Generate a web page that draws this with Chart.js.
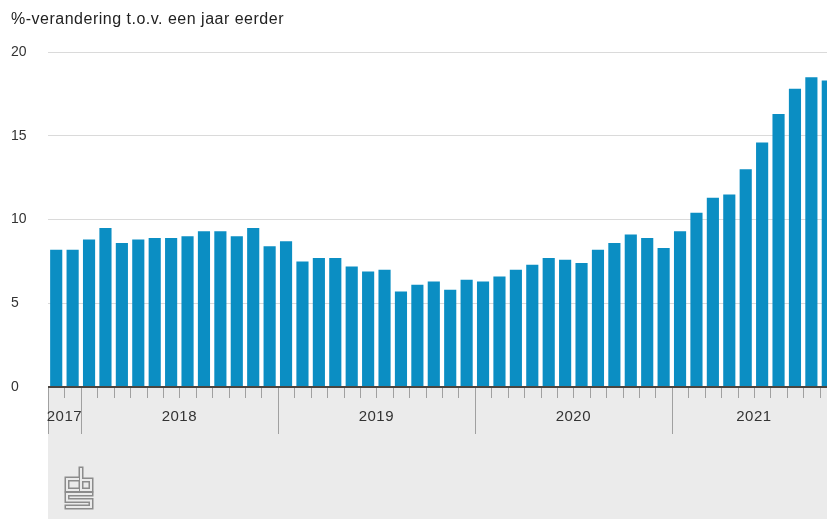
<!DOCTYPE html>
<html>
<head>
<meta charset="utf-8">
<script src="https://cdn.jsdelivr.net/npm/chart.js@4.4.0/dist/chart.umd.min.js"></script>
<style>
  html, body { margin: 0; padding: 0; background: #fff; overflow: hidden; }
  #wrap { position: relative; width: 836px; height: 519px; }
</style>
</head>
<body>
<div id="wrap"><canvas id="myChart"></canvas></div>
<script>
// maanden nov 2017 t/m okt 2021
var months = [
  '2017-11','2017-12',
  '2018-01','2018-02','2018-03','2018-04','2018-05','2018-06','2018-07','2018-08','2018-09','2018-10','2018-11','2018-12',
  '2019-01','2019-02','2019-03','2019-04','2019-05','2019-06','2019-07','2019-08','2019-09','2019-10','2019-11','2019-12',
  '2020-01','2020-02','2020-03','2020-04','2020-05','2020-06','2020-07','2020-08','2020-09','2020-10','2020-11','2020-12',
  '2021-01','2021-02','2021-03','2021-04','2021-05','2021-06','2021-07','2021-08','2021-09','2021-10'
];
var change = [
  8.2, 8.2,
  8.8, 9.5, 8.6, 8.8, 8.9, 8.9, 9.0, 9.3, 9.3, 9.0, 9.5, 8.4,
  8.7, 7.5, 7.7, 7.7, 7.2, 6.9, 7.0, 5.7, 6.1, 6.3, 5.8, 6.4,
  6.3, 6.6, 7.0, 7.3, 7.7, 7.6, 7.4, 8.2, 8.6, 9.1, 8.9, 8.3,
  9.3, 10.4, 11.3, 11.5, 13.0, 14.6, 16.3, 17.8, 18.5, 18.3
];
var years = ['2017', '2018', '2019', '2020', '2021'];
var yTicks = [0, 5, 10, 15, 20];
var title = '%-verandering t.o.v. een jaar eerder';

var font = "'Liberation Sans', Arial, sans-serif";

var decor = {
  id: 'decor',
  beforeDraw: function (chart) {
    var c = chart.ctx, a = chart.chartArea;
    c.save();
    c.fillStyle = '#ebebeb';
    c.fillRect(a.left, a.bottom, chart.width - a.left, chart.height - a.bottom);
    c.fillStyle = '#222';
    c.font = '16px ' + font;
    c.letterSpacing = '0.5px';
    c.textBaseline = 'middle';
    c.fillText(title, 11, 20);
    c.restore();
  },
  afterDatasetsDraw: function (chart) {
    var c = chart.ctx, x = chart.scales.x, a = chart.chartArea;
    var slot = x.width / months.length;
    c.save();
    // maand- en jaarstreepjes
    c.strokeStyle = '#a0a0a0';
    c.lineWidth = 1;
    for (var i = 0; i <= months.length; i++) {
      var px = Math.round(a.left + i * slot) + 0.5;
      var yearStart = i === 0 || (i < months.length && months[i].slice(5) === '01');
      c.beginPath();
      c.moveTo(px, a.bottom);
      c.lineTo(px, a.bottom + (yearStart ? 47 : 11));
      c.stroke();
    }
    // nullijn
    c.strokeStyle = '#4a4540';
    c.lineWidth = 2;
    c.beginPath();
    c.moveTo(a.left, a.bottom);
    c.lineTo(chart.width, a.bottom);
    c.stroke();
    // jaarlabels
    c.fillStyle = '#333';
    c.font = '15px ' + font;
    c.letterSpacing = '0.5px';
    c.textAlign = 'center';
    c.textBaseline = 'middle';
    years.forEach(function (yr) {
      var idx = months.map(function (m, k) { return m.slice(0, 4) === yr ? k : -1; }).filter(function (k) { return k >= 0; });
      var x0 = x.getPixelForValue(idx[0]) - slot / 2;
      var x1 = x.getPixelForValue(idx[idx.length - 1]) + slot / 2;
      var cx = yr === '2021' ? x0 + 5 * slot : (x0 + x1) / 2;
      c.fillText(yr, cx, a.bottom + 30);
    });
    // cbs logo
    var lx = 65, ly = 468;
    var paths = [
      [[13, 11], [2, 11], [2, 22], [13, 22]],
      [[16, 1], [16, 22], [26, 22], [26, 12], [16, 12]],
      [[26, 26], [2, 26], [2, 32.5], [26, 32.5], [26, 39], [2, 39]]
    ];
    [[5, '#8c8c8c'], [2, '#ebebeb']].forEach(function (st) {
      c.lineWidth = st[0];
      c.strokeStyle = st[1];
      c.lineJoin = 'miter';
      c.lineCap = 'square';
      paths.forEach(function (p) {
        c.beginPath();
        p.forEach(function (pt, k) {
          if (k === 0) c.moveTo(lx + pt[0], ly + pt[1]);
          else c.lineTo(lx + pt[0], ly + pt[1]);
        });
        c.stroke();
      });
    });
    c.restore();
  }
};

var ctx = document.getElementById('myChart').getContext('2d');
var myChart = new Chart(ctx, {
  type: 'bar',
  data: {
    labels: months,
    datasets: [{
      label: title,
      data: change,
      backgroundColor: '#0b8ec3',
      barPercentage: 0.74,
      categoryPercentage: 1.0
    }]
  },
  options: {
    responsive: true,
    maintainAspectRatio: false,
    animation: false,
    layout: { padding: { left: 11, top: 52, right: 0, bottom: 0 } },
    plugins: { legend: { display: false }, tooltip: { enabled: false } },
    scales: {
      x: {
        grid: { display: false },
        border: { display: false },
        ticks: { display: false },
        afterFit: function (s) { s.height = 132; }
      },
      y: {
        min: 0,
        max: 20,
        afterBuildTicks: function (s) { s.ticks = yTicks.map(function (v) { return { value: v }; }); },
        afterFit: function (s) { s.width = 37; },
        grid: { color: '#dadada', drawTicks: false },
        border: { display: false },
        ticks: {
          crossAlign: 'far',
          color: '#333',
          font: { family: font, size: 14 }
        }
      }
    }
  },
  plugins: [decor]
});
</script>
</body>
</html>
